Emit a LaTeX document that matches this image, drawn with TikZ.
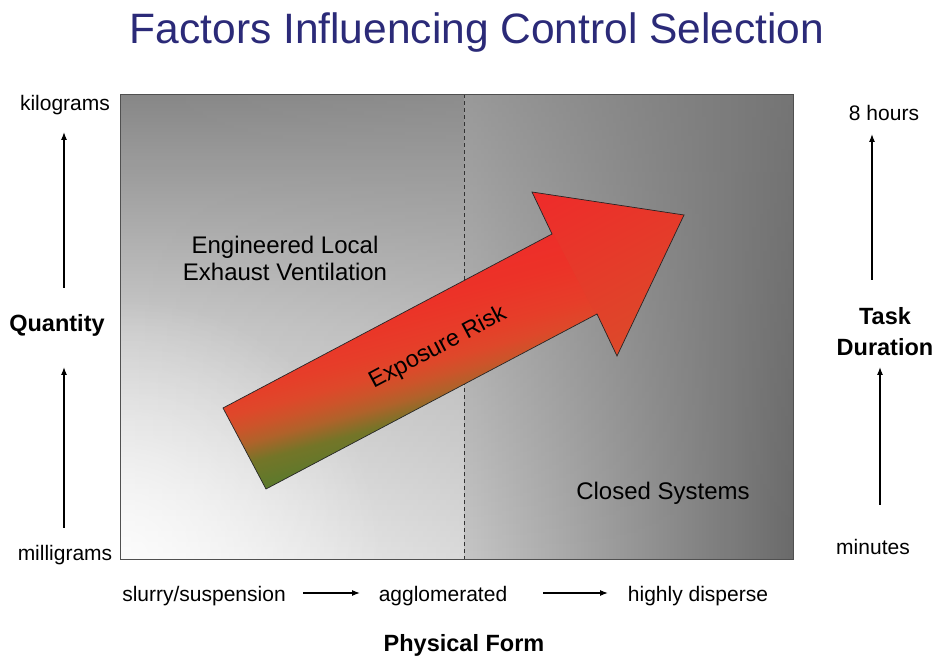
\documentclass[tikz,border=0pt]{standalone}
\usepackage{fontspec}
\setmainfont{Liberation Sans}
\usetikzlibrary{arrows.meta,fadings}
\definecolor{titleblue}{HTML}{2B2A78}
\definecolor{bgtop}{HTML}{878787}
\definecolor{bgmidl}{HTML}{CACACA}
\definecolor{bgbot}{HTML}{F6F6F6}
\definecolor{bgmid}{HTML}{9A9A9A}
\definecolor{rleft}{HTML}{C6C6C6}
\definecolor{rmid}{HTML}{B2B2B2}
\definecolor{rright}{HTML}{6A6A6A}
\definecolor{rtop}{HTML}{7C7C7C}
\definecolor{agreen}{HTML}{5A7A2C}
\definecolor{aolive}{HTML}{747528}
\definecolor{abrown}{HTML}{B0622A}
\definecolor{aorange}{HTML}{CC542A}
\definecolor{aorred}{HTML}{DE482A}
\definecolor{aorred2}{HTML}{E63E29}
\definecolor{ared1}{HTML}{EC3228}
\definecolor{ared}{HTML}{EF2A2A}
\definecolor{aheadbase}{HTML}{DC4A2A}
\definecolor{boxline}{HTML}{505050}
% rectangle height 300 -> p px maps to 25 + p/6 bp
\pgfdeclareverticalshading{riskshade}{100bp}{color(0bp)=(agreen); color(25bp)=(agreen); color(30bp)=(aolive); color(33.3bp)=(abrown); color(35.8bp)=(aorange); color(38.3bp)=(aorred); color(41.7bp)=(aorred2); color(48.3bp)=(ared1); color(58.3bp)=(ared); color(100bp)=(ared)}
\pgfdeclareverticalshading{leftbg}{100bp}{color(0bp)=(bgbot); color(25bp)=(bgbot); color(50bp)=(bgmidl); color(75bp)=(bgtop); color(100bp)=(bgtop)}
\tikzfading[name=glowfade, inner color=transparent!0, outer color=transparent!100]
\begin{document}
\begin{tikzpicture}[x=1pt,y=1pt,
  lbl/.style={font=\fontsize{21}{25}\selectfont, inner sep=0pt},
  reglbl/.style={font=\fontsize{24}{27}\selectfont, inner sep=0pt, align=center},
  boldlbl/.style={font=\fontsize{23.5}{31}\selectfont\bfseries, inner sep=0pt, align=center},
  axarrow/.style={-{Latex[length=8pt,width=6pt]}, line width=1.2pt},
  riskarrow/.style={draw=black!85, line width=0.7pt, line join=miter}]
\useasboundingbox (0,0) rectangle (937,658);
\fill[white] (0,0) rectangle (937,658);
% box corners
\coordinate (bl) at (120,98);
\coordinate (tr) at (793,563);
\coordinate (dbot) at (464,98);
\coordinate (dtop) at (464,563);
% background panels
\shade[shading=leftbg] (bl) rectangle (dtop);
\fill[bgmid, opacity=0.3, path fading=west] (bl) rectangle (dtop);
\begin{scope}
  \clip (bl) rectangle (dtop);
  \fill[white, opacity=0.7, path fading=glowfade] (125,100) circle (260);
\end{scope}
\shade[left color=rleft, middle color=rmid, right color=rright] (dbot) rectangle (tr);
\fill[rtop, opacity=0.6, path fading=south] (dbot) rectangle (tr);
\draw[line width=0.9pt, color=black!80, dash pattern=on 4pt off 3pt] (dbot) -- (dtop);
\draw[line width=1pt, boxline] (bl) rectangle (tr);
% risk arrow
\coordinate (T1) at (266,169);
\coordinate (T2) at (223,250);
\coordinate (S1) at (552,424);
\coordinate (B1) at (532,466);
\coordinate (tip) at (684,443);
\coordinate (B2) at (617,302);
\coordinate (S2) at (597,344);
\begin{scope}
  \clip (T1) -- (T2) -- (S1) -- (B1) -- (tip) -- (B2) -- (S2) -- cycle;
  \shade[shading=riskshade, transform canvas={shift={(266,169)}, rotate=15}] (-150,0) rectangle (550,300);
  \clip (B1) -- (tip) -- (B2) -- cycle;
  \shade[bottom color=aheadbase, top color=ared, transform canvas={shift={(597,344)}, rotate=28}] (-10,-50) rectangle (170,140);
\end{scope}
\draw[riskarrow] (T1) -- (T2) -- (S1) -- (B1) -- (tip) -- (B2) -- (S2) -- cycle;
\node[font=\fontsize{23.5}{28}\selectfont, rotate=28, inner sep=0pt] (risk) at (438,310) {Exposure Risk};
% region labels
\node[reglbl] (elev) at (285,400) {Engineered Local\\Exhaust Ventilation};
\node[reglbl] (closed) at (663,165) {Closed Systems};
% title
\node[font=\fontsize{42.5}{50}\selectfont, text=titleblue, inner sep=0pt] (title) at (477,625) {Factors Influencing Control Selection};
% left axis
\node[lbl] (kg) at (65,553) {kilograms};
\node[boldlbl] (qty) at (57,333) {Quantity};
\node[lbl] (mg) at (65,103) {milligrams};
\coordinate (lu0) at (64,370);
\coordinate (lu1) at (64,526);
\coordinate (ll0) at (64,130);
\coordinate (ll1) at (64,291);
\draw[axarrow] (lu0) -- (lu1);
\draw[axarrow] (ll0) -- (ll1);
% right axis
\node[lbl] (hrs) at (884,545) {8 hours};
\node[boldlbl] (task) at (885,326) {Task\\Duration};
\node[lbl] (min) at (873,111) {minutes};
\coordinate (ru0) at (872,378);
\coordinate (ru1) at (872,524);
\coordinate (rl0) at (880,153);
\coordinate (rl1) at (880,291);
\draw[axarrow] (ru0) -- (ru1);
\draw[axarrow] (rl0) -- (rl1);
% bottom axis
\node[lbl] (slurry) at (204,62) {slurry/suspension};
\node[lbl] (agg) at (443,62) {agglomerated};
\node[lbl] (disp) at (698,62) {highly disperse};
\node[boldlbl] (phys) at (464,13) {Physical Form};
\coordinate (b10) at (303,65);
\coordinate (b11) at (360,65);
\coordinate (b20) at (543,65);
\coordinate (b21) at (608,65);
\draw[axarrow] (b10) -- (b11);
\draw[axarrow] (b20) -- (b21);
\end{tikzpicture}
\end{document}
